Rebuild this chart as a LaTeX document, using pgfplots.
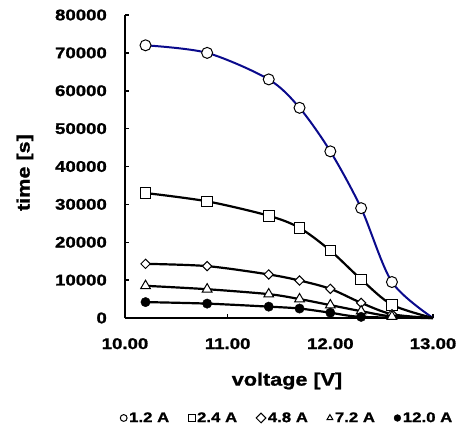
\documentclass[border=0pt]{standalone}
\usepackage{pgfplots}
\pgfplotsset{compat=1.18}
\usepackage{fontspec}
\setmainfont{Liberation Sans}[FakeStretch=1.2, BoldFeatures={FakeBold=1.2}]
\definecolor{navyline}{RGB}{10,10,140}
\begin{document}
\begin{tikzpicture}
\begin{axis}[
 at={(125pt,121pt)}, anchor=south west,
 scale only axis, width=308pt, height=303pt,
 xmin=10, xmax=13, ymin=0, ymax=80000,
 axis lines=left, axis line style={line width=1.8pt, -},
 xtick={10,11,12,13}, ytick={0,10000,...,80000},
 tick align=inside, major tick length=4pt, tick style={line width=1.5pt, black},
 scaled y ticks=false,
 /pgf/number format/assume math mode=true,
 xticklabel style={/pgf/number format/fixed, /pgf/number format/fixed zerofill, /pgf/number format/precision=2, inner sep=0pt, anchor=north, yshift=-20pt},
 yticklabel style={/pgf/number format/fixed, /pgf/number format/set thousands separator={}, inner sep=0pt, anchor=east, xshift=-18pt},
 tick label style={font=\fontsize{15.5}{18}\selectfont\bfseries},
 xlabel={voltage [V]}, ylabel={time [s]},
 every axis x label/.style={at={(rel axis cs:0.526,0)}, anchor=center, yshift=-63pt, font=\fontsize{18}{21}\selectfont\bfseries},
 every axis y label/.style={at={(rel axis cs:0,0.48)}, anchor=center, rotate=90, yshift=100pt, font=\fontsize{18}{21}\selectfont\bfseries},
 legend columns=5,
 legend style={draw=none, fill=none, at={(rel axis cs:0.527,-0.33)}, anchor=center,
   font=\fontsize{14}{16}\selectfont\bfseries,
   /tikz/every even column/.append style={column sep=17pt},
   /tikz/every odd column/.append style={column sep=0pt}},
 legend image code/.code={\draw[#1, mark size=3.4pt] plot coordinates {(0.12cm,0cm)};},
 clip=false,
]
% lines
\addplot[navyline, line width=2pt, smooth, forget plot] coordinates {(10.2,72000)(10.8,70000)(11.4,63000)(11.7,55500)(12.0,44000)(12.3,29000)(12.6,9500)(13,0)};
\addplot[black, line width=2.2pt, smooth, forget plot] coordinates {(10.2,33000)(10.8,30800)(11.4,27000)(11.7,23800)(12.0,17800)(12.3,10200)(12.6,3500)(13,0)};
\addplot[black, line width=2.2pt, smooth, forget plot] coordinates {(10.2,14300)(10.8,13700)(11.4,11500)(11.7,9900)(12.0,7700)(12.3,4000)(12.6,1000)(13,0)};
\addplot[black, line width=2.2pt, smooth, forget plot] coordinates {(10.2,8500)(10.8,7600)(11.4,6300)(11.7,5000)(12.0,3400)(12.3,1800)(12.6,400)(13,0)};
\addplot[black, line width=2.2pt, smooth, forget plot] coordinates {(10.2,4200)(10.8,3800)(11.4,3000)(11.7,2500)(12.0,1400)(12.3,300)(13,0)};
% marks
\addplot[only marks, mark=*, mark size=5.5pt, mark options={fill=white, draw=black, line width=1pt}] coordinates {(10.2,72000)(10.8,70000)(11.4,63000)(11.7,55500)(12.0,44000)(12.3,29000)(12.6,9500)};
\addlegendentry{1.2 A}
\addplot[only marks, mark=square*, mark size=5.3pt, mark options={fill=white, draw=black, line width=1pt}] coordinates {(10.2,33000)(10.8,30800)(11.4,27000)(11.7,23800)(12.0,17800)(12.3,10200)(12.6,3500)};
\addlegendentry{2.4 A}
\addplot[only marks, mark=square*, mark size=3.3pt, mark options={fill=white, draw=black, line width=1pt, rotate=45}] coordinates {(10.2,14300)(10.8,13700)(11.4,11500)(11.7,9900)(12.0,7700)(12.3,4000)(12.6,1000)};
\addlegendentry{4.8 A}
\addplot[only marks, mark=triangle*, mark size=5.6pt, mark options={fill=white, draw=black, line width=1pt}] coordinates {(10.2,8500)(10.8,7600)(11.4,6300)(11.7,5000)(12.0,3400)(12.3,1800)(12.6,400)};
\addlegendentry{7.2 A}
\addplot[only marks, mark=*, mark size=4.7pt, mark options={fill=black, draw=black}] coordinates {(10.2,4200)(10.8,3800)(11.4,3000)(11.7,2500)(12.0,1400)(12.3,300)};
\addlegendentry{12.0 A}
\end{axis}
\pgfresetboundingbox
\path[use as bounding box] (0,0) rectangle (457pt,439pt);
\end{tikzpicture}
\end{document}
